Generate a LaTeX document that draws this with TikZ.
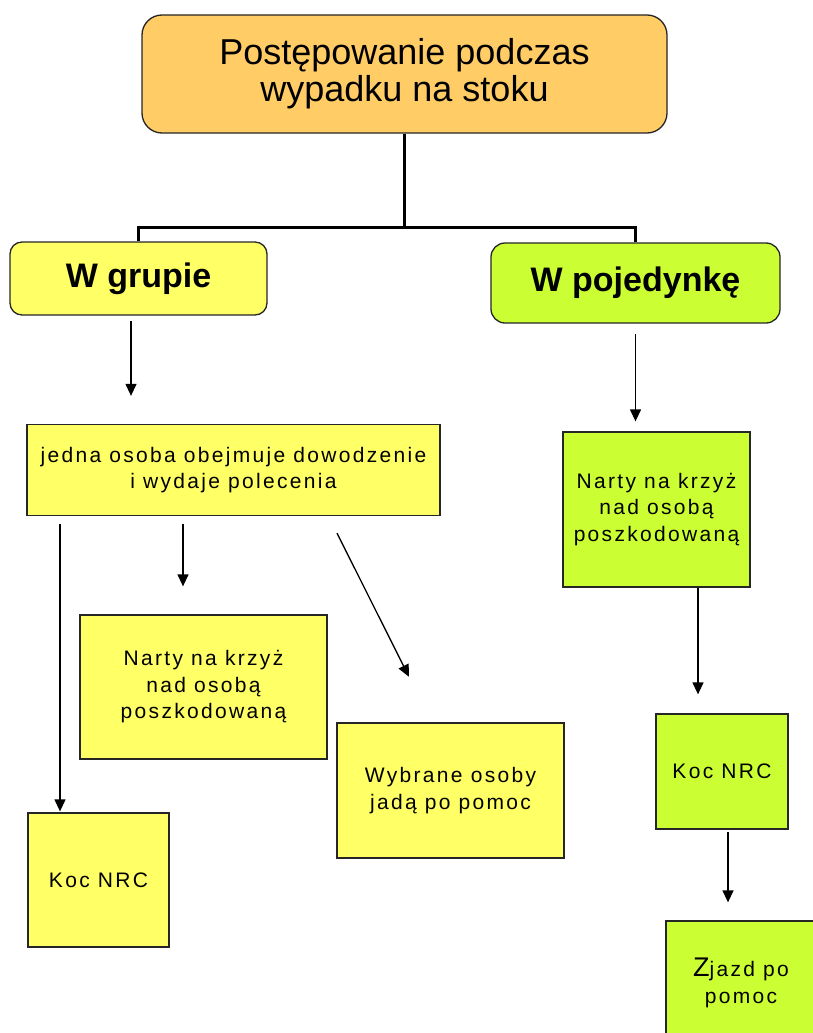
\documentclass[tikz,border=0pt]{standalone}
\usepackage{fontspec}
\setmainfont{Liberation Sans}
\newfontfamily\spaced[LetterSpace=11]{Liberation Sans}
\usetikzlibrary{arrows.meta,calc}
\definecolor{orng}{HTML}{FFCC66}
\definecolor{yel}{HTML}{FFFF66}
\definecolor{grn}{HTML}{CCFF33}
\tikzset{
  box/.style={draw=black!85, line width=1.3pt, inner sep=0pt, align=center},
  ybox/.style={box, fill=yel},
  gbox/.style={box, fill=grn},
  smalltxt/.style={font=\spaced\fontsize{21}{26.5}\selectfont},
  bigtxt/.style={font=\bfseries\fontsize{34}{38}\selectfont},
  arr/.style={line width=1.3pt, -{Triangle[length=12pt,width=11pt]}},
  tree/.style={line width=3pt}
}
\begin{document}
\begin{tikzpicture}[x=1pt,y=-1pt]
\useasboundingbox (0,0) rectangle (813,1033);
\begin{scope}
\clip (0,0) rectangle (813,1033);
% nodes
\node[box, fill=orng, rounded corners=20pt, minimum width=525pt, minimum height=118pt,
      font=\fontsize{36}{37}\selectfont] (title) at (404.5,74) {Postępowanie podczas\\wypadku na stoku};
\node[ybox, rounded corners=12pt, minimum width=257pt, minimum height=73pt, bigtxt] (grupa) at (138.5,278.5) {W grupie};
\node[gbox, rounded corners=14pt, minimum width=289pt, minimum height=80pt, bigtxt] (pojed) at (635.5,283) {W pojedynkę};
\node[ybox, minimum width=413pt, minimum height=91pt, smalltxt] (jedna) at (233.5,470) {jedna osoba obejmuje dowodzenie\\i wydaje polecenia};
\node[gbox, minimum width=187pt, minimum height=155pt, smalltxt] (nartyR) at (656.5,509.5) {Narty na krzyż\\nad osobą\\poszkodowaną};
\node[ybox, minimum width=247pt, minimum height=144pt, smalltxt] (nartyL) at (203.5,687) {Narty na krzyż\\nad osobą\\poszkodowaną};
\node[ybox, minimum width=227pt, minimum height=135pt, smalltxt] (wybr) at (450.5,790.5) {Wybrane osoby\\jadą po pomoc};
\node[ybox, minimum width=141pt, minimum height=134pt, smalltxt] (kocL) at (98.5,880) {Koc NRC};
\node[gbox, minimum width=132pt, minimum height=115pt, smalltxt] (kocR) at (722,771.5) {Koc NRC};
\node[gbox, minimum width=150pt, minimum height=124pt, smalltxt] (zjazd) at (741,983) {{\fontsize{27}{26}\selectfont Z}jazd po\\pomoc};
% tree connector
\coordinate (hub) at ($(title.south)+(0,94)$);
\draw[tree] (title.south) -- (hub) -| (grupa.north);
\draw[tree] (hub) -| (pojed.north);
% arrow start points
\coordinate (g1) at ([xshift=-7.5pt]grupa.south);
\coordinate (p1) at (pojed.south);
\coordinate (j1) at ([xshift=-173.5pt]jedna.south);
\coordinate (j2) at ([xshift=-50.5pt]jedna.south);
\coordinate (j3) at ([xshift=95pt]jedna.south);
\coordinate (w1) at ([xshift=-18.7pt]wybr.north);
\coordinate (r1) at ([xshift=41.5pt]nartyR.south);
\coordinate (k1) at ([xshift=6pt]kocR.south);
% arrows
\draw[arr, shorten <=5pt, shorten >=28pt] (g1) -- (g1 |- jedna.north);
\draw[arr, shorten <=10pt, shorten >=10pt] (p1) -- (p1 |- nartyR.north);
\draw[arr, shorten <=8pt, shorten >=1pt] (j1) -- (j1 |- kocL.north);
\draw[arr, shorten <=8pt, shorten >=28pt] (j2) -- (j2 |- nartyL.north);
\draw[arr, shorten <=19pt, shorten >=51pt] (j3) -- (w1);
\draw[arr, shorten >=19pt] (r1) -- (r1 |- kocR.north);
\draw[arr, shorten <=2pt, shorten >=18pt] (k1) -- (k1 |- zjazd.north);
\end{scope}
\end{tikzpicture}
\end{document}
